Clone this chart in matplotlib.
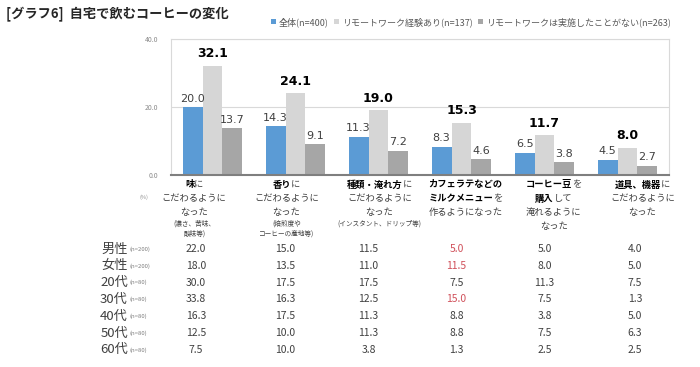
import matplotlib
matplotlib.use("Agg")
import matplotlib.pyplot as plt
from matplotlib.transforms import blended_transform_factory
import numpy as np

plt.rcParams['font.family'] = ['Noto Sans CJK JP', 'DejaVu Sans']

# ---------------- data ----------------
title = "[グラフ6]  自宅で飲むコーヒーの変化"
series_names = ["全体(n=400)", "リモートワーク経験あり(n=137)", "リモートワークは実施したことがない(n=263)"]
values_all = [20.0, 14.3, 11.3, 8.3, 6.5, 4.5]
values_remote = [32.1, 24.1, 19.0, 15.3, 11.7, 8.0]
values_none = [13.7, 9.1, 7.2, 4.6, 3.8, 2.7]

# category labels: main lines (list of (text, bold) segments) and small note lines
category_lines = [
    [[("味", True), ("に", False)], [("こだわるように", False)], [("なった", False)]],
    [[("香り", True), ("に", False)], [("こだわるように", False)], [("なった", False)]],
    [[("種類・淹れ方", True), ("に", False)], [("こだわるように", False)], [("なった", False)]],
    [[("カフェラテなどの", True)], [("ミルクメニュー", True), ("を", False)], [("作るようになった", False)]],
    [[("コーヒー豆", True), ("を", False)], [("購入", True), ("して", False)], [("淹れるように", False)], [("なった", False)]],
    [[("道具、機器", True), ("に", False)], [("こだわるように", False)], [("なった", False)]],
]
category_notes = [
    ["(濃さ、苦味、", "酸味等)"],
    ["(焙煎度や", "コーヒーの産地等)"],
    ["(インスタント、ドリップ等)"],
    [],
    [],
    [],
]

row_labels = ["男性", "女性", "20代", "30代", "40代", "50代", "60代"]
row_n = ["(n=200)", "(n=200)", "(n=80)", "(n=80)", "(n=80)", "(n=80)", "(n=80)"]
row_male = [22.0, 15.0, 11.5, 5.0, 5.0, 4.0]
row_female = [18.0, 13.5, 11.0, 11.5, 8.0, 5.0]
row_20s = [30.0, 17.5, 17.5, 7.5, 11.3, 7.5]
row_30s = [33.8, 16.3, 12.5, 15.0, 7.5, 1.3]
row_40s = [16.3, 17.5, 11.3, 8.8, 3.8, 5.0]
row_50s = [12.5, 10.0, 11.3, 8.8, 7.5, 6.3]
row_60s = [7.5, 10.0, 3.8, 1.3, 2.5, 2.5]
table_rows = [row_male, row_female, row_20s, row_30s, row_40s, row_50s, row_60s]
highlight_cells = [(0, 3), (1, 3), (3, 3)]

# ---------------- style / layout ----------------
W, H = 700, 367
colors = ["#5B9BD5", "#D6D6D6", "#A6A6A6"]
text_dark = "#404040"
red = "#D0505A"
bar_w = 0.24
col_shift = [-0.20, -0.13, -0.12, -0.06, 0.0, 0.09]
label_shift = [-0.22, -0.11, 0.01, 0.05, 0.11, 0.18]

fig = plt.figure(figsize=(W / 100, H / 100), dpi=100)
ax = fig.add_axes([171 / W, 1 - 175 / H, (669 - 171) / W, (175 - 39) / H])

n = len(values_all)
x = np.arange(n)
series = [values_all, values_remote, values_none]
for k, (vals, c, name) in enumerate(zip(series, colors, series_names)):
    pos = x + (k - 1) * bar_w
    ax.bar(pos, vals, width=bar_w, color=c, label=name, zorder=2)
    for px, v in zip(pos, vals):
        if k == 1:
            ax.annotate(f"{v:.1f}", (px, v), xytext=(0, 4), textcoords="offset points",
                        ha="center", va="bottom", fontsize=9, fontweight="bold", color="black",
                        family=["DejaVu Sans"])
        else:
            ax.annotate(f"{v:.1f}", (px, v), xytext=(0, 2.5), textcoords="offset points",
                        ha="center", va="bottom", fontsize=8, color=text_dark,
                        family=["DejaVu Sans"])

ax.set_xlim(-0.5, n - 0.5)
ax.set_ylim(0, 40)
ax.set_yticks([0, 20, 40])
ax.set_yticklabels([f"{t:.1f}" for t in [0, 20, 40]], fontsize=5, color="#8C8C8C")
ax.tick_params(axis="y", length=0, pad=9)
ax.tick_params(axis="x", length=0, labelbottom=False)
ax.grid(axis="y", color="#D9D9D9", linewidth=0.8, zorder=0)
for s in ["top", "right", "left"]:
    ax.spines[s].set_color("#D9D9D9")
    ax.spines[s].set_linewidth(0.8)
ax.spines["bottom"].set_color("#7F7F7F")
ax.spines["bottom"].set_linewidth(1.5)
ax.spines["bottom"].set_zorder(3)

fig.text(144 / W, 1 - 197 / H, "(%)", fontsize=4, color="#8C8C8C", ha="center", va="center")

# title
fig.text(6 / W, 1 - 14 / H, title, fontsize=9.5, fontweight="bold", color="#262626",
         ha="left", va="center")

# legend
leg = ax.legend(ncol=3, loc="center right", bbox_to_anchor=(1.003, 1 + 17 / 136),
                frameon=False, fontsize=6.5, handlelength=0.55, handleheight=0.55,
                handletextpad=0.3, columnspacing=0.6, borderaxespad=0, borderpad=0)
for t in leg.get_texts():
    t.set_color("#595959")

# category labels (segments laid out manually so bold / normal parts sit side by side)
renderer = fig.canvas.get_renderer()
for i in range(n):
    cx_px = ax.transData.transform((i + label_shift[i], 0))[0]
    y_px = 185
    for line in category_lines[i]:
        texts = []
        for seg, b in line:
            t = fig.text(0, 1 - y_px / H, seg, fontsize=6.7,
                         fontweight="bold" if b else "normal",
                         color="black" if b else text_dark, ha="left", va="center")
            texts.append(t)
        widths = [t.get_window_extent(renderer).width for t in texts]
        start = cx_px - sum(widths) / 2
        for t, w in zip(texts, widths):
            t.set_x(start / W)
            start += w
        y_px += 14
    y_px -= 3
    for note in category_notes[i]:
        fig.text(cx_px / W, 1 - y_px / H, note, fontsize=4.8, color=text_dark,
                 ha="center", va="center")
        y_px += 10

# table
trans = blended_transform_factory(ax.transData, fig.transFigure)
row_y0, row_dy = 249, 16.8
for r, (lab, nn, vals) in enumerate(zip(row_labels, row_n, table_rows)):
    yy = 1 - (row_y0 + r * row_dy) / H
    fig.text(128 / W, yy, lab, fontsize=9.5, color=text_dark, ha="right", va="center")
    fig.text(130 / W, yy, nn, fontsize=4.3, color="#7F7F7F", ha="left", va="center")
    for c, v in enumerate(vals):
        col = red if (r, c) in highlight_cells else text_dark
        fig.text(c + col_shift[c], yy, f"{v:.1f}", transform=trans, fontsize=7.5,
                 color=col, ha="center", va="center")

fig.savefig("out.png", dpi=100)
